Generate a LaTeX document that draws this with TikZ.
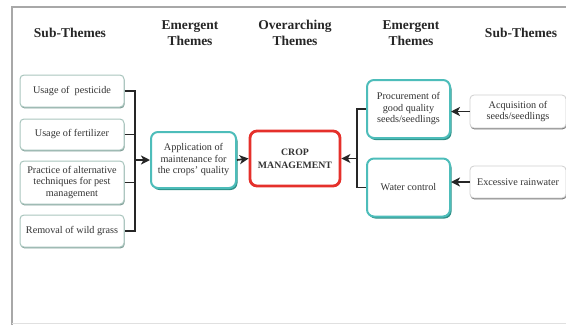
\documentclass[tikz,border=0pt]{standalone}
\usepackage{fontspec}
\setmainfont{Liberation Serif}
\usetikzlibrary{arrows.meta,shadows}
\definecolor{subborder}{HTML}{A9C6BE}
\definecolor{subshadow}{HTML}{7E9C95}
\definecolor{rsubborder}{HTML}{CFCFCF}
\definecolor{rsubshadow}{HTML}{777777}
\definecolor{teal1}{HTML}{4DBDBA}
\definecolor{teal2}{HTML}{2E8F86}
\definecolor{cropred}{HTML}{E5302B}
\definecolor{txt}{HTML}{333333}
\definecolor{frame}{HTML}{A8A8A8}
\begin{document}
\begin{tikzpicture}[x=1pt,y=-1pt,
  hdr/.style={font=\fontsize{13.5}{16}\selectfont\bfseries, text=black!85, align=center, inner sep=0pt},
  boxtxt/.style={font=\fontsize{10.2}{11.5}\selectfont, text=txt, align=center, inner sep=1pt},
  subl/.style={boxtxt, draw=subborder, line width=1pt, rounded corners=4pt, fill=white,
     minimum width=104pt,
     drop shadow={shadow xshift=0.6pt, shadow yshift=-1.4pt, fill=subshadow, opacity=1}},
  subr/.style={boxtxt, draw=rsubborder, line width=0.8pt, rounded corners=4pt, fill=white,
     minimum width=96pt,
     drop shadow={shadow xshift=0.5pt, shadow yshift=-1.4pt, fill=rsubshadow, opacity=1}},
  emer/.style={boxtxt, draw=teal1, line width=2pt, rounded corners=7pt, fill=white,
     drop shadow={shadow xshift=1.5pt, shadow yshift=-2pt, fill=teal2, opacity=1}},
  over/.style={boxtxt, draw=cropred, line width=2.8pt, rounded corners=7pt, fill=white,
     font=\fontsize{9.8}{13}\selectfont\bfseries},
  brk/.style={draw=black!85, line width=1.7pt},
  arr/.style={draw=black!85, line width=1.7pt, -{Stealth[length=9pt,width=9pt,inset=2.5pt]}}
]
\useasboundingbox (0,0) rectangle (566,325);
\begin{scope}
\clip (0,0) rectangle (566,325);
\draw[frame, line width=1.2pt] (12,325) -- (12,7) -- (566,7);
\draw[black!12, line width=0.8pt] (12,323.5) -- (566,323.5);

% headers
\node[hdr] (h1) at (70,33) {Sub-Themes};
\node[hdr] (h2) at (190,33) {Emergent\\Themes};
\node[hdr] (h3) at (295,33) {Overarching\\Themes};
\node[hdr] (h4) at (411,33) {Emergent\\Themes};
\node[hdr] (h5) at (521,33) {Sub-Themes};

% left sub-themes
\node[subl, minimum height=32pt] (s1) at (72,91) {Usage of \ pesticide};
\node[subl, minimum height=31pt] (s2) at (72,134.5) {Usage of fertilizer};
\node[subl, minimum height=43pt] (s3) at (72,182.5) {Practice of alternative\\techniques for pest\\management};
\node[subl, minimum height=32pt] (s4) at (72,231) {Removal of wild grass};

% emergent left
\node[emer, minimum width=85pt, minimum height=56pt] (app) at (193.5,160) {Application of\\maintenance for\\the crops' quality};

% overarching
\node[over, minimum width=90pt, minimum height=55pt] (crop) at (295,158.5) {CROP\\MANAGEMENT};

% emergent right
\node[emer, minimum width=83pt, minimum height=58pt] (proc) at (408.5,109) {Procurement of\\good quality\\seeds/seedlings};
\node[emer, minimum width=83pt, minimum height=58pt] (water) at (408.5,187.5) {Water control};

% right sub-themes
\node[subr, minimum height=33pt] (acq) at (518,111.5) {Acquisition of\\seeds/seedlings};
\node[subr, minimum height=32pt] (exc) at (518,182) {Excessive rainwater};

% left bracket
\coordinate (bl) at (135,160);
\draw[brk] (s1.east) -- (s1.east -| bl) -- (s4.east -| bl) -- (s4.east);
\draw[brk] (s2.east) -- (s2.east -| bl);
\draw[brk] (s3.east) -- (s3.east -| bl);
\draw[arr] (bl |- app.west) -- (app.west);

% middle arrow
\draw[arr] (app.east) -- (crop.west);

% right bracket
\coordinate (br) at (357,158);
\draw[brk] (proc.west) -- (proc.west -| br) -- (water.west -| br) -- (water.west);
\draw[arr] (br |- crop.east) -- (crop.east);

% right arrows
\draw[arr] (acq.west) -- (acq.west -| proc.east);
\draw[arr] (exc.west) -- (exc.west -| water.east);
\end{scope}
\end{tikzpicture}
\end{document}
